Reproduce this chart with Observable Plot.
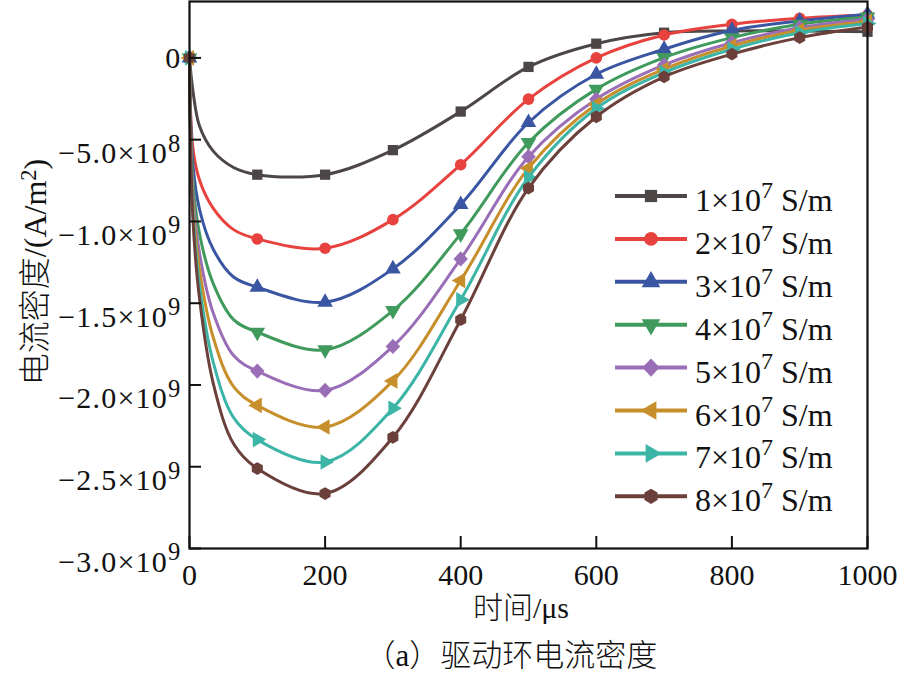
<!DOCTYPE html>
<html><head><meta charset="utf-8">
<script src="https://cdn.jsdelivr.net/npm/d3@7"></script>
<script src="https://cdn.jsdelivr.net/npm/@observablehq/plot@0.6"></script>
<style>
body{margin:0;background:#fff;}
#wrap{position:relative;width:901px;height:681px;font-family:"Liberation Serif","Noto Sans CJK SC",serif;color:#111;}
#caption{position:absolute;left:0;top:628px;width:1022px;text-align:center;font-size:31px;line-height:56px;white-space:nowrap;font-family:"Liberation Serif","Noto Sans CJK SC",serif;font-weight:300;}
#chart text{font-family:"Liberation Serif","Noto Sans CJK SC",serif;}
</style></head><body>
<div id="wrap"><div id="chart"></div><div id="caption">（a）驱动环电流密度</div></div>
<script>
// time (µs)
const times = [0,5,15,35,65,100,200,300,400,500,600,700,800,900,1000];
// current density in units of 1e9 A/m^2
const s1 = [0,-0.20,-0.42,-0.57,-0.67,-0.714,-0.714,-0.564,-0.328,-0.055,0.087,0.154,0.165,0.165,0.160];
const s2 = [0,-0.55,-0.75,-0.92,-1.05,-1.107,-1.164,-0.989,-0.653,-0.252,0.000,0.140,0.206,0.242,0.262];
const s3 = [0,-0.65,-0.93,-1.17,-1.34,-1.402,-1.494,-1.290,-0.897,-0.395,-0.100,0.053,0.169,0.226,0.267];
const s4 = [0,-0.75,-1.08,-1.38,-1.60,-1.677,-1.785,-1.545,-1.076,-0.517,-0.191,0.002,0.124,0.206,0.250];
const s5 = [0,-0.82,-1.20,-1.56,-1.82,-1.915,-2.033,-1.764,-1.229,-0.604,-0.252,-0.043,0.093,0.185,0.236];
const s6 = [0,-0.88,-1.30,-1.71,-2.01,-2.125,-2.257,-1.975,-1.361,-0.674,-0.283,-0.069,0.073,0.169,0.222];
const s7 = [0,-0.93,-1.40,-1.86,-2.20,-2.334,-2.471,-2.143,-1.479,-0.731,-0.309,-0.090,0.053,0.154,0.210];
const s8 = [0,-0.98,-1.48,-1.99,-2.36,-2.511,-2.664,-2.320,-1.601,-0.796,-0.360,-0.116,0.023,0.124,0.189];
const seriesLabels = ["1×10^7 S/m","2×10^7 S/m","3×10^7 S/m","4×10^7 S/m","5×10^7 S/m","6×10^7 S/m","7×10^7 S/m","8×10^7 S/m"];
const colors = ["#4d4646","#e8423f","#3a56a3","#3f9a5c","#9a6eb6","#c78f2b","#3cb5a6","#6b403b"];
const xTicks = [0,200,400,600,800,1000];
const yTicks = [0,-5e8,-1e9,-1.5e9,-2e9,-2.5e9,-3e9];
const yTickLabels = ["0","−5.0×10^8","−1.0×10^9","−1.5×10^9","−2.0×10^9","−2.5×10^9","−3.0×10^9"];

const S3 = Math.sqrt(3);
function tri(dir){
  return {draw(ctx, size){
    const y = -Math.sqrt(size / (S3 * 3));
    let pts = [[0, y*2],[-S3*y,-y],[S3*y,-y]];
    if (dir==="down") pts = pts.map(([a,b])=>[a,-b]);
    if (dir==="left") pts = pts.map(([a,b])=>[b,a]);
    if (dir==="right") pts = pts.map(([a,b])=>[-b,a]);
    ctx.moveTo(pts[0][0],pts[0][1]); ctx.lineTo(pts[1][0],pts[1][1]); ctx.lineTo(pts[2][0],pts[2][1]); ctx.closePath();
  }};
}
const diamondSym = {draw(ctx,size){const r=Math.sqrt(size/2)*1.05; ctx.moveTo(0,-r);ctx.lineTo(r*0.95,0);ctx.lineTo(0,r);ctx.lineTo(-r*0.95,0);ctx.closePath();}};
const hexSym = {draw(ctx,size){const r=Math.sqrt(size*2/(3*S3)); for(let i=0;i<6;i++){const a=Math.PI/3*i - Math.PI/2; const x=r*Math.cos(a), y=r*Math.sin(a); if(i===0) ctx.moveTo(x,y); else ctx.lineTo(x,y);} ctx.closePath();}};
const symbols = [d3.symbolSquare, d3.symbolCircle, tri("up"), tri("down"), diamondSym, tri("left"), tri("right"), hexSym];

const series = [s1,s2,s3,s4,s5,s6,s7,s8];
const marks = [];
series.forEach((s,k)=>{
  const rows = s.map((v,j)=>({t: times[j], v: v*1e9}));
  marks.push(Plot.line(rows, {x:"t", y:"v", stroke: colors[k], strokeWidth: 3, curve: "catmull-rom"}));
  marks.push(Plot.dot(rows.filter(d => d.t % 100 === 0), {x:"t", y:"v", fill: colors[k], stroke: "none", symbol: symbols[k], r: 5.8}));
});

const plot = Plot.plot({
  width: 901, height: 628,
  marginLeft: 189, marginRight: 34, marginTop: 1, marginBottom: 80,
  style: {fontFamily: '"Liberation Serif","Noto Sans CJK SC",serif', background: "#fff", color: "#111"},
  x: {domain: [0,1000]},
  y: {domain: [-3e9, 3.45e8]},
  marks: [
    ...marks,
    Plot.frame({stroke: "#111", strokeWidth: 2.2}),
    Plot.axisX(xTicks, {tickSize: -12, tickPadding: 27, fontSize: 30, strokeWidth: 2, label: null, tickFormat: d => String(d)}),
    Plot.axisY(yTicks, {tickSize: -12, tickPadding: 20, fontSize: 30, strokeWidth: 2, label: null, tickFormat: d => yTickLabels[yTicks.indexOf(d)]})
  ]
});
document.getElementById("chart").appendChild(plot);

const NS = "http://www.w3.org/2000/svg";
function supText(el, s, raise, scale){
  const [base, sup] = s.split("^");
  const rest = sup.split(" ");
  el.textContent = "";
  const t1 = document.createElementNS(NS,"tspan"); t1.textContent = base; el.appendChild(t1);
  const t2 = document.createElementNS(NS,"tspan"); t2.textContent = rest[0];
  t2.setAttribute("dy", `-${raise}em`); t2.setAttribute("font-size", `${scale}em`); el.appendChild(t2);
  if (rest.length > 1) {
    const t3 = document.createElementNS(NS,"tspan"); t3.textContent = " " + rest.slice(1).join(" ");
    t3.setAttribute("dy", `${raise*scale}em`); el.appendChild(t3);
  }
}
plot.querySelectorAll('g[aria-label="y-axis tick label"] text').forEach(el => {
  const s = el.textContent;
  el.setAttribute("letter-spacing", "1.2");
  if (s.includes("^")) { supText(el, s, 0.47, 0.82); el.setAttribute("y", "0.78em"); }
});

const svg = d3.select(plot);
// y axis title
const yl = svg.append("text").attr("transform", "translate(46,272) rotate(-90)")
  .attr("text-anchor","middle").attr("font-size",32).attr("fill","#111");
yl.append("tspan").attr("style",'font-family:"Noto Sans CJK SC";font-weight:300').text("电流密度");
yl.append("tspan").text("/(A/m");
yl.append("tspan").attr("dy","-0.45em").attr("font-size","0.7em").text("2");
yl.append("tspan").attr("dy","0.315em").text(")");
// x axis title
const xl = svg.append("text").attr("x",521).attr("y",618).attr("text-anchor","middle").attr("font-size",30).attr("fill","#111");
xl.append("tspan").attr("style",'font-family:"Noto Sans CJK SC";font-weight:300').text("时间");
xl.append("tspan").text("/μs");

// legend
const lg = svg.append("g");
seriesLabels.forEach((lab,i)=>{
  const y = 196 + i*42.9;
  lg.append("line").attr("x1",615).attr("x2",687).attr("y1",y).attr("y2",y).attr("stroke",colors[i]).attr("stroke-width",4);
  lg.append("path").attr("d", d3.symbol(symbols[i], 150)()).attr("transform",`translate(651,${y})`).attr("fill",colors[i]);
  const t = lg.append("text").attr("x",695).attr("y",y+15).attr("font-size",32).attr("text-anchor","start").attr("fill","#111");
  supText(t.node(), lab, 0.55, 0.75);
});
</script>
</body></html>
